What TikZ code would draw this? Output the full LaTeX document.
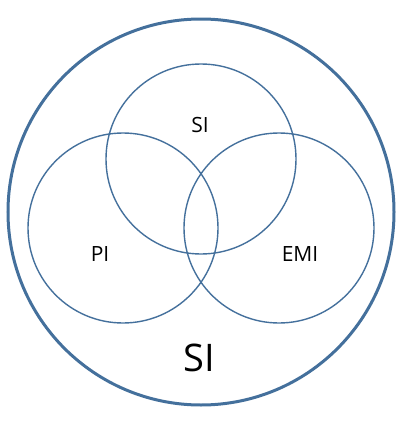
\documentclass[tikz,border=0pt]{standalone}
\usepackage{fontspec}
\setmainfont{Open Sans}
\usetikzlibrary{positioning}
\definecolor{vennblue}{RGB}{68,112,156}
\tikzset{
    outer set/.style = {
        draw = vennblue,
        line width = 3pt,
        circle,
        minimum size = 386pt,
        inner sep = 0pt,
        },
    inner set/.style = {
        draw = vennblue,
        line width = 1.4pt,
        circle,
        minimum size = 190pt,
        inner sep = 0pt,
        },
    set label/.style = {
        font = \fontsize{21}{21}\selectfont,
        inner sep = 0pt,
        },
    big label/.style = {
        font = \fontsize{38}{38}\selectfont,
        inner sep = 0pt,
        }
}
\begin{document}
\begin{tikzpicture}[x=1pt,y=-1pt]
            \useasboundingbox (0,0) rectangle (409,423);
            \node[outer set] (all) at (201,212) {};
            \node[inner set] (si) at (201,159) {};
            \node[inner set] (pi) at (123,228) {};
            \node[inner set] (emi) at (279,228) {};

            \node[set label] (si text) at (200,125) {SI};
            \node[set label] (pi text) at (100,254) {PI};
            \node[set label] (emi text) at (300,254) {EMI};
            \node[big label] (all text) at (199,358) {SI};
        \end{tikzpicture}
\end{document}
